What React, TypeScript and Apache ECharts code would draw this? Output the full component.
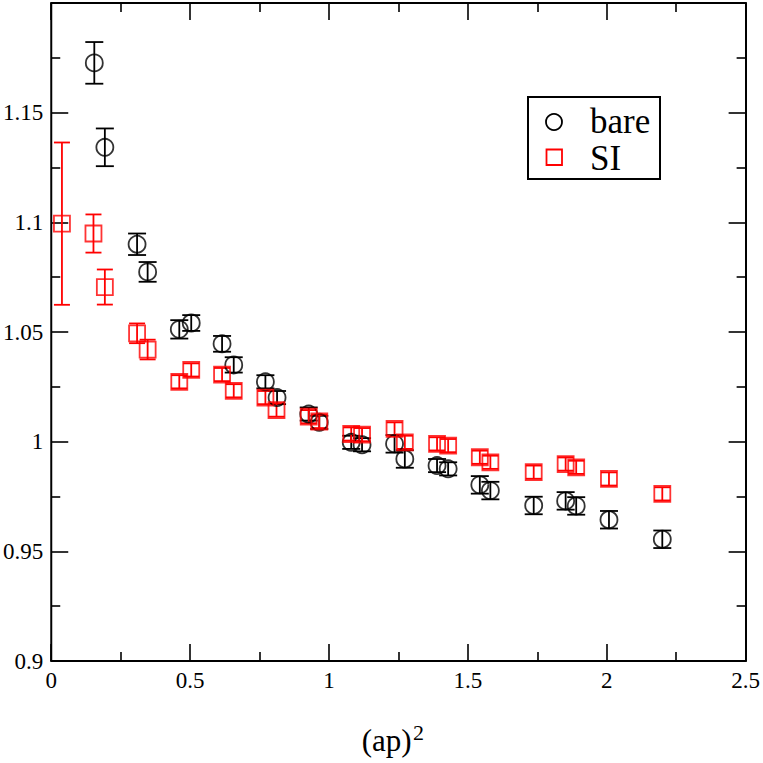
import React, { useEffect, useRef } from "react";
import * as echarts from "echarts";

// (ap)^2 values and measured ratios with error bars
const bareX = [0.155, 0.193, 0.309, 0.347, 0.461, 0.504, 0.615, 0.657, 0.771, 0.813, 0.927, 0.965, 1.08, 1.119, 1.236, 1.273, 1.389, 1.429, 1.543, 1.581, 1.737, 1.852, 1.89, 2.008, 2.2];
const bareY = [1.1727, 1.1342, 1.09, 1.0774, 1.0512, 1.0541, 1.0446, 1.035, 1.0273, 1.0201, 1.0126, 1.0088, 0.9997, 0.9986, 0.999, 0.9921, 0.9891, 0.9876, 0.9803, 0.9777, 0.9709, 0.973, 0.9707, 0.9644, 0.9555];
const bareErr = [0.0095, 0.0086, 0.0049, 0.0045, 0.0042, 0.0036, 0.0036, 0.0035, 0.003, 0.003, 0.003, 0.003, 0.003, 0.003, 0.004, 0.004, 0.003, 0.003, 0.004, 0.004, 0.004, 0.004, 0.004, 0.004, 0.004];

const siX = [0.0385, 0.152, 0.193, 0.309, 0.347, 0.461, 0.504, 0.615, 0.657, 0.771, 0.811, 0.927, 0.965, 1.08, 1.119, 1.236, 1.273, 1.389, 1.429, 1.543, 1.581, 1.737, 1.852, 1.89, 2.008, 2.2];
const siY = [1.0994, 1.0949, 1.0705, 1.0494, 1.042, 1.0273, 1.0327, 1.0306, 1.0232, 1.0201, 1.0144, 1.0114, 1.0092, 1.0035, 1.0032, 1.0058, 0.9997, 0.999, 0.9982, 0.9929, 0.9906, 0.9861, 0.9898, 0.9883, 0.983, 0.9762];
const siErr = [0.037, 0.0087, 0.008, 0.0045, 0.0045, 0.003, 0.003, 0.003, 0.003, 0.003, 0.003, 0.003, 0.003, 0.003, 0.003, 0.003, 0.003, 0.003, 0.003, 0.003, 0.003, 0.003, 0.003, 0.003, 0.003, 0.003];

const seriesNames = ["bare", "SI"];
const xTitle = "(ap)";
const xTitleSup = "2";

const FONT = "Liberation Serif, Times New Roman, serif";

function errorBars(xs: number[], ys: number[], es: number[], color: string, half: number) {
  return {
    type: "custom",
    z: 2,
    silent: true,
    data: xs.map((x, i) => [x, ys[i], es[i]]),
    encode: { x: 0, y: 1 },
    renderItem: (params: any, api: any) => {
      const x = api.value(0);
      const y = api.value(1);
      const e = api.value(2);
      const top = api.coord([x, y + e]);
      const bot = api.coord([x, y - e]);
      const style = { stroke: color, lineWidth: 1.8 };
      return {
        type: "group",
        children: [
          { type: "line", shape: { x1: top[0], y1: top[1], x2: bot[0], y2: bot[1] }, style },
          { type: "line", shape: { x1: top[0] - half, y1: top[1], x2: top[0] + half, y2: top[1] }, style },
          { type: "line", shape: { x1: bot[0] - half, y1: bot[1], x2: bot[0] + half, y2: bot[1] }, style },
        ],
      };
    },
  };
}

export default function App() {
  const ref = useRef<HTMLDivElement>(null);
  useEffect(() => {
    if (!ref.current) return;
    const chart = echarts.init(ref.current, undefined, { renderer: "svg" });
    const tickCommon = (show: boolean) => ({
      axisLine: { show: true, onZero: false, lineStyle: { color: "#000", width: 2 } },
      axisTick: { show: true, inside: true, length: 17, lineStyle: { color: "#000", width: 1.6 } },
      minorTick: { show: true, splitNumber: 2, length: 9, lineStyle: { color: "#000", width: 1.6 } },
      splitLine: { show: false },
      minorSplitLine: { show: false },
      axisLabel: { show },
    });
    const option: any = {
      animation: false,
      backgroundColor: "#fff",
      textStyle: { fontFamily: FONT },
      grid: { left: 51, top: 3, right: 17, bottom: 102, containLabel: false },
      xAxis: [
        {
          type: "value",
          min: 0,
          max: 2.5,
          interval: 0.5,
          ...tickCommon(true),
          axisLabel: {
            show: true,
            margin: 8,
            color: "#000",
            fontFamily: FONT,
            fontSize: 23,
            formatter: (v: number) => String(+v.toFixed(2)),
          },
        },
        {
          type: "value",
          position: "top",
          min: 0,
          max: 2.5,
          interval: 0.5,
          ...tickCommon(false),
        },
      ],
      yAxis: [
        {
          type: "value",
          min: 0.9,
          max: 1.2,
          interval: 0.05,
          ...tickCommon(true),
          axisLabel: {
            show: true,
            margin: 8,
            color: "#000",
            fontFamily: FONT,
            fontSize: 23,
            formatter: (v: number) => (Math.abs(v - 1.2) < 1e-6 ? "" : String(+v.toFixed(2))),
          },
        },
        {
          type: "value",
          position: "right",
          min: 0.9,
          max: 1.2,
          interval: 0.05,
          ...tickCommon(false),
        },
      ],
      series: [
        errorBars(bareX, bareY, bareErr, "#000", 9),
        errorBars(siX, siY, siErr, "#ff0000", 8),
        {
          name: seriesNames[0],
          type: "scatter",
          z: 3,
          symbol: "circle",
          symbolSize: 17,
          itemStyle: { color: "rgba(0,0,0,0)", borderColor: "#000", borderWidth: 1.8 },
          data: bareX.map((x, i) => [x, bareY[i]]),
        },
        {
          name: seriesNames[1],
          type: "scatter",
          z: 3,
          symbol: "rect",
          symbolSize: 16,
          itemStyle: { color: "rgba(0,0,0,0)", borderColor: "#ff0000", borderWidth: 1.8 },
          data: siX.map((x, i) => [x, siY[i]]),
        },
      ],
      graphic: [
        {
          type: "rect",
          shape: { x: 528, y: 97, width: 132, height: 82 },
          style: { fill: "#fff", stroke: "#000", lineWidth: 2 },
          z: 10,
        },
        {
          type: "circle",
          shape: { cx: 554, cy: 122, r: 8 },
          style: { fill: "none", stroke: "#000", lineWidth: 1.8 },
          z: 11,
        },
        {
          type: "rect",
          shape: { x: 546.5, y: 149.5, width: 15.5, height: 15.5 },
          style: { fill: "none", stroke: "#ff0000", lineWidth: 1.8 },
          z: 11,
        },
        {
          type: "text",
          x: 590,
          y: 121.5,
          style: { text: seriesNames[0], fontFamily: FONT, fontSize: 35, fill: "#000", align: "left", verticalAlign: "middle" },
          z: 11,
        },
        {
          type: "text",
          x: 590,
          y: 158,
          style: { text: seriesNames[1], fontFamily: FONT, fontSize: 35, fill: "#000", align: "left", verticalAlign: "middle" },
          z: 11,
        },
        {
          type: "text",
          x: 386.7,
          y: 740.5,
          style: { text: xTitle, fontFamily: FONT, fontSize: 31, fill: "#000", align: "center", verticalAlign: "middle" },
        },
        {
          type: "text",
          x: 413,
          y: 732.5,
          style: { text: xTitleSup, fontFamily: FONT, fontSize: 22, fill: "#000", align: "left", verticalAlign: "middle" },
        },
      ],
    };
    chart.setOption(option);
    return () => chart.dispose();
  }, []);
  return (
    <div
      ref={ref}
      style={{ position: "absolute", left: 0, top: 0, width: 763, height: 763, background: "#fff" }}
    />
  );
}
